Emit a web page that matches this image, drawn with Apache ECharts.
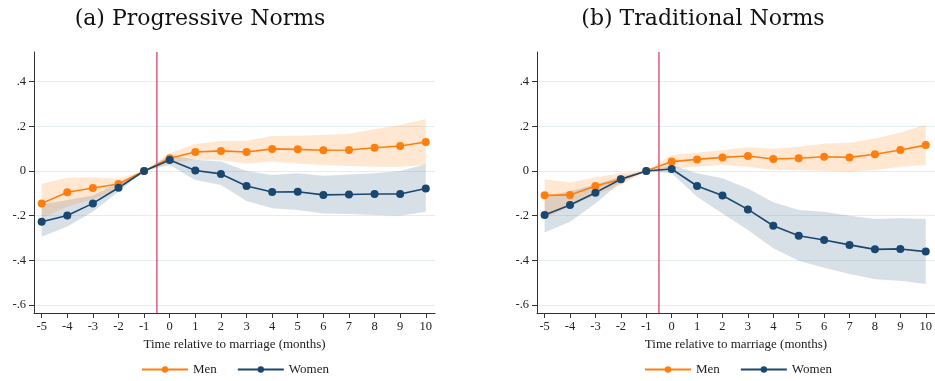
<!DOCTYPE html>
<html>
<head>
<meta charset="utf-8">
<script src="https://cdn.jsdelivr.net/npm/echarts@6/dist/echarts.min.js"></script>
<style>
  html, body { margin: 0; padding: 0; background: #fff; }
  #chart { width: 935px; height: 381px; }
</style>
</head>
<body>
<div id="chart"></div>
<script>
// Event-study estimates: months relative to marriage
const months = [-5, -4, -3, -2, -1, 0, 1, 2, 3, 4, 5, 6, 7, 8, 9, 10];
const yTicks = [-0.6, -0.4, -0.2, 0, 0.2, 0.4];
const yRange = [-0.636, 0.533];

// (a) Progressive norms
const progMen     = [-0.145, -0.095, -0.076, -0.058, 0, 0.057, 0.085, 0.090, 0.085, 0.099, 0.097, 0.093, 0.094, 0.104, 0.112, 0.130];
const progMenLo   = [-0.210, -0.160, -0.125, -0.085, 0, 0.035, 0.050, 0.048, 0.034, 0.042, 0.034, 0.027, 0.022, 0.019, 0.019, 0.027];
const progMenHi   = [-0.058, -0.030, -0.028, -0.035, 0, 0.079, 0.121, 0.134, 0.136, 0.157, 0.158, 0.161, 0.167, 0.187, 0.206, 0.233];
const progWomen   = [-0.227, -0.199, -0.145, -0.075, 0, 0.049, 0.002, -0.013, -0.067, -0.094, -0.093, -0.107, -0.105, -0.103, -0.103, -0.078];
const progWomenLo = [-0.294, -0.249, -0.182, -0.093, 0, 0.027, -0.040, -0.063, -0.134, -0.167, -0.175, -0.190, -0.193, -0.197, -0.200, -0.182];
const progWomenHi = [-0.150, -0.130, -0.110, -0.052, 0, 0.072, 0.050, 0.042, 0.000, -0.018, -0.010, -0.021, -0.016, -0.010, 0.000, 0.030];

// (b) Traditional norms
const tradMen     = [-0.109, -0.107, -0.067, -0.037, 0, 0.042, 0.052, 0.061, 0.067, 0.054, 0.057, 0.064, 0.061, 0.075, 0.094, 0.116];
const tradMenLo   = [-0.212, -0.160, -0.107, -0.063, 0, 0.012, 0.019, 0.027, 0.019, 0.004, 0.004, 0.001, -0.003, 0.004, 0.019, 0.027];
const tradMenHi   = [-0.037, -0.052, -0.028, -0.010, 0, 0.072, 0.082, 0.094, 0.106, 0.100, 0.109, 0.122, 0.127, 0.146, 0.172, 0.206];
const tradWomen   = [-0.197, -0.152, -0.097, -0.037, 0, 0.009, -0.067, -0.110, -0.172, -0.245, -0.290, -0.309, -0.331, -0.351, -0.349, -0.361];
const tradWomenLo = [-0.276, -0.227, -0.145, -0.050, 0, -0.010, -0.115, -0.190, -0.264, -0.346, -0.402, -0.433, -0.461, -0.485, -0.491, -0.506];
const tradWomenHi = [-0.115, -0.090, -0.060, -0.025, 0, 0.027, -0.010, -0.033, -0.078, -0.140, -0.175, -0.182, -0.200, -0.215, -0.212, -0.215];

const panelTitles = ['(a) Progressive Norms', '(b) Traditional Norms'];
const xTitle = 'Time relative to marriage (months)';
const marriageLine = -0.5;

const MEN = '#ff7f0e';
const WOMEN = '#1a476f';
const MEN_BAND = 'rgba(255,127,14,0.19)';
const WOMEN_BAND = 'rgba(26,71,111,0.17)';
const MARKER_RED = '#c8103a';
const SERIF = '"Liberation Serif", "DejaVu Serif", serif';
const AXIS = '#333';

const pairs = (ys) => months.map((m, i) => [m, ys[i]]);
const triples = (lo, hi) => months.map((m, i) => [m, lo[i], hi[i]]);

function fmtY(v) {
  const r = Math.round(v * 10) / 10;
  if (r === 0) return '0';
  return (r < 0 ? '-' : '') + String(Math.abs(r)).replace(/^0/, '');
}

// Shaded confidence interval: one polygon through upper bounds, back along lower bounds
function bandSeries(name, k, lo, hi, color) {
  const rows = triples(lo, hi);
  return {
    name: name, type: 'custom', xAxisIndex: k, yAxisIndex: k, silent: true, z: 1,
    data: rows,
    encode: { x: 0, y: [1, 2] },
    renderItem: function (params, api) {
      if (params.dataIndex !== 0) return null;
      const upper = rows.map(r => api.coord([r[0], r[2]]));
      const lower = rows.slice().reverse().map(r => api.coord([r[0], r[1]]));
      return {
        type: 'polygon',
        shape: { points: upper.concat(lower) },
        style: { fill: color, stroke: null }
      };
    }
  };
}

const panels = [
  { men: progMen, menLo: progMenLo, menHi: progMenHi, women: progWomen, wLo: progWomenLo, wHi: progWomenHi, left: 34, center: 200, legendLeft: 136 },
  { men: tradMen, menLo: tradMenLo, menHi: tradMenHi, women: tradWomen, wLo: tradWomenLo, wHi: tradWomenHi, left: 537, center: 703, legendLeft: 639 }
];

const grid = [], xAxis = [], yAxis = [], series = [], title = [], legend = [];

panels.forEach((p, k) => {
  grid.push({ left: p.left, top: 52, width: 401, height: 261, containLabel: false });
  title.push({
    text: panelTitles[k], left: p.center, top: 8, textAlign: 'center', padding: 0,
    textStyle: { fontFamily: '"DejaVu Serif", serif', fontWeight: 'normal', fontSize: 22, color: '#111' }
  });
  xAxis.push({
    type: 'value', gridIndex: k, min: -5.3, max: 10.36,
    name: xTitle, nameLocation: 'middle', nameGap: 23,
    nameTextStyle: { fontFamily: SERIF, fontSize: 13, color: '#222' },
    axisLine: { show: true, onZero: false, lineStyle: { color: AXIS, width: 1 } },
    axisTick: { show: true, length: 5, customValues: months, lineStyle: { color: AXIS } },
    axisLabel: { customValues: months, fontFamily: SERIF, fontSize: 12.5, color: '#222', margin: 7 },
    splitLine: { show: false }
  });
  yAxis.push({
    type: 'value', gridIndex: k, min: yRange[0], max: yRange[1],
    axisLine: { show: true, onZero: false, lineStyle: { color: AXIS, width: 1 } },
    axisTick: { show: true, length: 5, customValues: yTicks, lineStyle: { color: AXIS } },
    axisLabel: { customValues: yTicks, formatter: fmtY, fontFamily: SERIF, fontSize: 12.5, color: '#222', margin: 8 },
    splitLine: { show: true, lineStyle: { color: '#e4eef0', width: 1 } }
  });
  legend.push({
    left: p.legendLeft, top: 358, itemWidth: 46, itemHeight: 8, itemGap: 20,
    data: ['Men', 'Women'],
    textStyle: { fontFamily: SERIF, fontSize: 13, color: '#222' }
  });

  series.push(bandSeries('Women CI', k, p.wLo, p.wHi, WOMEN_BAND));
  series.push(bandSeries('Men CI', k, p.menLo, p.menHi, MEN_BAND));

  // vertical reference line between month -1 and month 0, spanning the whole y range
  series.push({
    name: 'marriage', type: 'line', xAxisIndex: k, yAxisIndex: k, silent: true, z: 3,
    data: [[marriageLine, yRange[0]], [marriageLine, yRange[1]]],
    symbol: 'none', lineStyle: { color: MARKER_RED, width: 1 }, itemStyle: { color: MARKER_RED }
  });

  series.push({
    name: 'Men', type: 'line', xAxisIndex: k, yAxisIndex: k, data: pairs(p.men), z: 4,
    color: MEN, symbol: 'circle', symbolSize: 8, showSymbol: true,
    lineStyle: { color: MEN, width: 1.6 }, itemStyle: { color: MEN }
  });
  series.push({
    name: 'Women', type: 'line', xAxisIndex: k, yAxisIndex: k, data: pairs(p.women), z: 4,
    color: WOMEN, symbol: 'circle', symbolSize: 8, showSymbol: true,
    lineStyle: { color: WOMEN, width: 1.6 }, itemStyle: { color: WOMEN }
  });
});

const chart = echarts.init(document.getElementById('chart'), null, { renderer: 'canvas' });
chart.setOption({
  animation: false,
  backgroundColor: '#fff',
  title, grid, xAxis, yAxis, legend, series
});
</script>
</body>
</html>
